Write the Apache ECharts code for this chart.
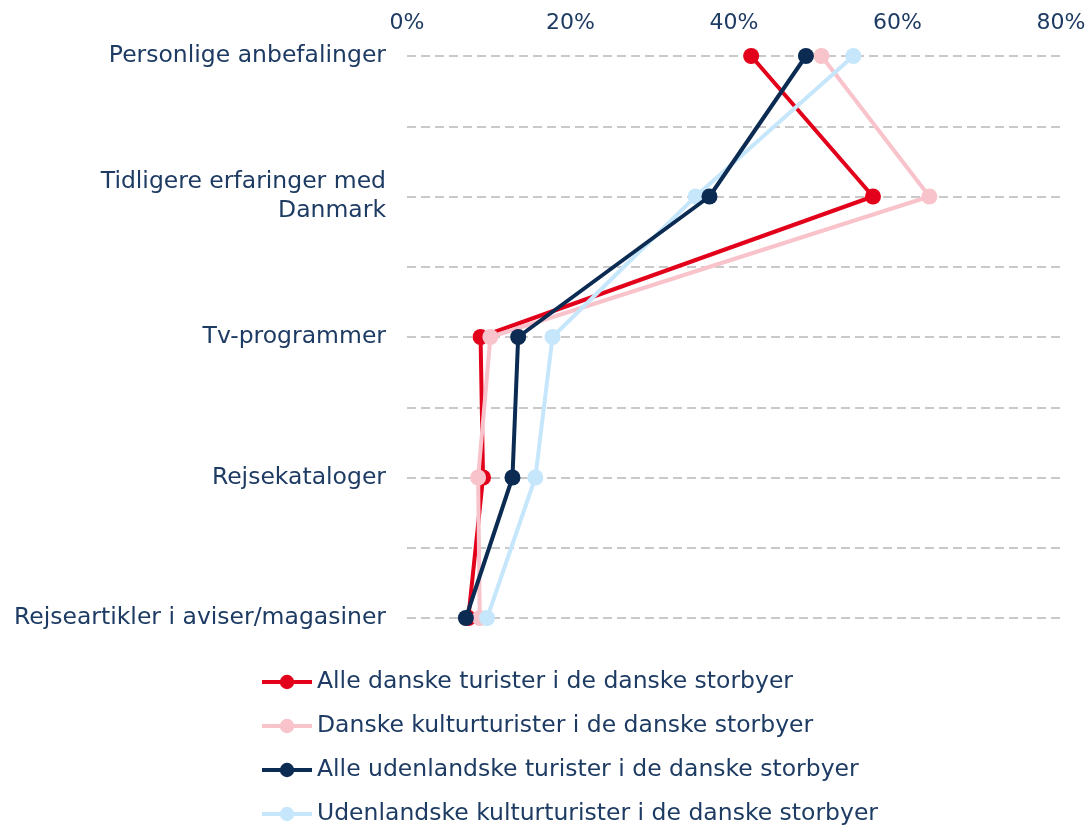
<!DOCTYPE html>
<html>
<head>
<meta charset="utf-8">
<script src="https://cdn.jsdelivr.net/npm/echarts@6/dist/echarts.min.js"></script>
<style>
  html, body { margin: 0; padding: 0; background: #fff; }
  #chart { width: 1092px; height: 826px; }
</style>
</head>
<body>
<div id="chart"></div>
<script>
'use strict';

var categories = [
    'Personlige anbefalinger',
    'Tidligere erfaringer med\nDanmark',
    'Tv-programmer',
    'Rejsekataloger',
    'Rejseartikler i aviser/magasiner'
];

var seriesNames = [
    'Alle danske turister i de danske storbyer',
    'Danske kulturturister i de danske storbyer',
    'Alle udenlandske turister i de danske storbyer',
    'Udenlandske kulturturister i de danske storbyer'
];

// values in %
var alleDanske = [42.1, 57.0, 9.0, 9.3, 7.5];
var danskeKultur = [50.7, 63.9, 10.2, 8.7, 8.9];
var alleUdenlandske = [48.8, 37.0, 13.6, 12.9, 7.2];
var udenlandskeKultur = [54.6, 35.3, 17.8, 15.7, 9.8];

var xTicks = [0, 20, 40, 60, 80];

var colors = ['#e2001a', '#f8c3cb', '#0b2b52', '#c6e7fb'];
// drawing order: navy on top, then light blue, pink, red
var zOrder = [2, 3, 5, 4];
var textColor = '#1d3b63';
var fontFamily = '"DejaVu Sans", "Noto Sans", sans-serif';

var chart = echarts.init(document.getElementById('chart'));

var allData = [alleDanske, danskeKultur, alleUdenlandske, udenlandskeKultur];
var series = [];
for (var i = 0; i < allData.length; i++) {
    series.push({
        name: seriesNames[i],
        type: 'line',
        yAxisIndex: 0,
        data: allData[i],
        symbol: 'circle',
        symbolSize: 16,
        lineStyle: { width: 4, color: colors[i] },
        itemStyle: { color: colors[i] },
        z: zOrder[i]
    });
}

var option = {
    animation: false,
    backgroundColor: '#fff',
    textStyle: { fontFamily: fontFamily },
    grid: {
        left: 407,
        right: 31,
        top: 56,
        bottom: 208,
        containLabel: false
    },
    legend: {
        orient: 'vertical',
        left: 255,
        top: 665,
        height: 170,
        itemGap: 20,
        itemWidth: 50,
        itemHeight: 18,
        lineStyle: { width: 4 },
        data: seriesNames,
        textStyle: { color: textColor, fontSize: 23.5, fontFamily: fontFamily }
    },
    xAxis: {
        type: 'value',
        position: 'top',
        min: xTicks[0],
        max: xTicks[xTicks.length - 1],
        interval: 20,
        axisLine: { show: false },
        axisTick: { show: false },
        splitLine: { show: false },
        axisLabel: {
            formatter: '{value}%',
            color: textColor,
            fontSize: 22,
            margin: 22,
            fontFamily: fontFamily
        }
    },
    yAxis: [
        {
            type: 'category',
            inverse: true,
            boundaryGap: false,
            data: categories,
            axisLine: { show: false },
            axisTick: { show: false },
            splitLine: { show: false },
            axisLabel: {
                color: textColor,
                fontSize: 23.5,
                lineHeight: 29,
                margin: 21,
                align: 'right',
                fontFamily: fontFamily
            }
        },
        {
            // helper axis only for the dashed lines between categories
            type: 'value',
            min: 0,
            max: 8,
            interval: 1,
            show: true,
            position: 'left',
            axisLine: { show: false },
            axisTick: { show: false },
            axisLabel: { show: false },
            splitLine: {
                show: true,
                lineStyle: { color: '#c9c9c9', width: 2, type: [9, 5] }
            }
        }
    ],
    series: series
};

chart.setOption(option);
</script>
</body>
</html>
